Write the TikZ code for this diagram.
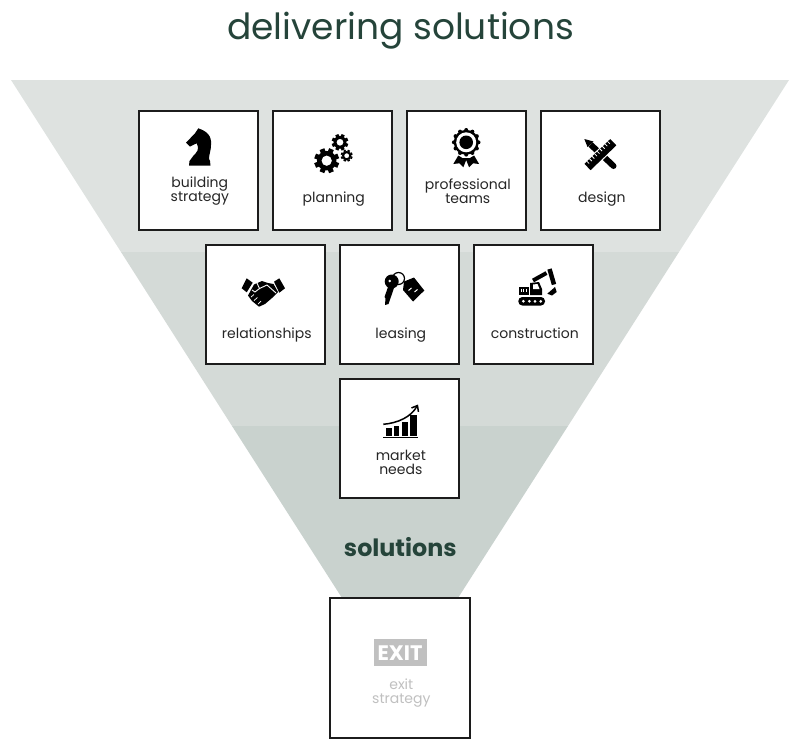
\documentclass[tikz,border=0pt]{standalone}
\usepackage{fontspec}
\setmainfont{Poppins}
\definecolor{bandtop}{RGB}{222, 226, 224}
\definecolor{bandmid}{RGB}{212, 218, 215}
\definecolor{bandlow}{RGB}{201, 210, 206}
\definecolor{titlegreen}{RGB}{37, 68, 58}
\definecolor{boxline}{RGB}{28, 28, 28}
\definecolor{exitgrey}{RGB}{192, 192, 192}
\usetikzlibrary{arrows.meta, positioning, calc}

\tikzset{
    gear/.pic={
        \fill[even odd rule] (0,0) circle ({0.78*#1}) (0,0) circle ({0.42*#1});
        \foreach \a in {0,45,...,315}
            \fill[rotate=\a+22.5] ({-0.2*#1},{-#1}) rectangle ({0.2*#1},{-0.7*#1});
    }
}

\begin{document}
\begin{tikzpicture}[
    x=1pt, y=-1pt,
    box/.style={draw=boxline, fill=white, line width=2pt, minimum size=119pt, outer sep=0pt},
    lbl/.style={align=center, inner sep=0pt, xshift=1pt, text=black!85, font=\fontsize{14}{14}\selectfont},
    head/.style={text=titlegreen, inner sep=0pt}
]
    \useasboundingbox (0,0) rectangle (800,750);

    % funnel
    \fill[bandtop] (11,80) -- (789,80) -- (679,252) -- (121,252) -- cycle;
    \fill[bandmid] (121,252) -- (679,252) -- (568,426) -- (232,426) -- cycle;
    \fill[bandlow] (232,426) -- (568,426) -- (458,598) -- (342,598) -- cycle;

    \node[head, font=\fontsize{36}{40}\selectfont] (title) at (400.5,31) {delivering solutions};
    \node[head, font=\bfseries\fontsize{23.8}{24}\selectfont] (sol) at (400.3,547) {solutions};

    % boxes
    \node[box] (strat) at (198.8,170.5) {};
    \node[box, right=15pt of strat] (plan) {};
    \node[box, right=15pt of plan] (teams) {};
    \node[box, right=15pt of teams] (design) {};
    \node[box, below right=15pt and -52pt of strat] (rel) {};
    \node[box, right=15pt of rel] (lease) {};
    \node[box, right=15pt of lease] (constr) {};
    \node[box, below=15pt of lease] (market) {};
    \node[box, minimum size=140pt] (exit) at (400.3,668) {};

    \node[lbl] (stratl) at ([yshift=-21pt]strat.center) {building\\strategy};
    \node[lbl] (planl) at ([yshift=-28.5pt]plan.center) {planning};
    \node[lbl] (teamsl) at ([yshift=-20.5pt]teams.center) {professional\\teams};
    \node[lbl] (designl) at ([yshift=-28.5pt]design.center) {design};
    \node[lbl] (rell) at ([yshift=-30.5pt]rel.center) {relationships};
    \node[lbl] (leasel) at ([yshift=-30.5pt]lease.center) {leasing};
    \node[lbl] (constrl) at ([yshift=-29pt]constr.center) {construction};
    \node[lbl] (marketl) at ([yshift=-23.5pt]market.center) {market\\needs};
    \node[lbl, text=exitgrey] (exitl) at ([yshift=-25pt]exit.center) {exit\\strategy};
    \node[fill=exitgrey, text=white, minimum width=53pt, minimum height=27pt, inner sep=0pt,
          font=\bfseries\fontsize{21}{22}\selectfont] (exitsign) at (400,652.7) {EXIT};

    % knight
    \fill (198.3,128.3) .. controls (206,131) and (212,135) .. (211,145)
        .. controls (211,151) and (209,154) .. (209,159) -- (210,161) -- (210.5,165.7) -- (189,165.7)
        -- (189.5,161) -- (191,159) .. controls (193,155) and (199,152) .. (198,147)
        -- (196.7,143.3) -- (190,146.5) -- (186,142.7) -- (195,133.3) -- cycle;

    % gears
    \pic at (326.7,160.7) {gear=12.5};
    \pic at (340,142.3) {gear=8.3};
    \pic at (346.7,155.7) {gear=6};

    % medal
    \fill (466.2,142.3) circle (12.5);
    \foreach \a in {0,30,...,330}
        \fill (466.2,142.3) ++(\a:12.3) circle (2);
    \fill[white] (466.2,142.3) circle (10);
    \fill (466.2,142.3) circle (6.8);
    \fill (458.3,155.5) -- (453.3,164) -- (459.3,163.3) -- (463.3,167.3) -- (466.2,160)
        -- (469.1,167.3) -- (473.1,163.3) -- (479.1,164) -- (474.1,155.5)
        -- (470,158) -- (462.4,158) -- cycle;

    % pencil and ruler
    \coordinate (rulera) at (613.3,142.2);
    \coordinate (rulerb) at (587.5,167);
    \fill (584.3,139) -- (593.5,141.5) -- (587.5,147) -- cycle;
    \draw[line width=6pt] (590.5,144.5) -- (612,164.5);
    \draw[line width=6pt, line cap=round] (612,164.5) -- (613.5,166);
    \draw[white, line width=11pt] ($(rulera)!0.2!(rulerb)$) -- ($(rulera)!0.8!(rulerb)$);
    \draw[line width=8.8pt] (rulera) -- (rulerb);
    \foreach \t in {0.1,0.2,...,0.9}
        \draw[white, line width=0.8pt] ($(rulera)!\t!(rulerb)+(-3.2,-3.3)$) -- ($(rulera)!\t!(rulerb)+(-0.9,-1)$);

    % handshake
    \fill (246.7,278.3) -- (252.7,282.7) -- (246.7,292.3) -- (241.7,288.3) -- cycle;
    \fill (274,281.7) -- (279.3,278.3) -- (285,288.3) -- (279.3,292.7) -- cycle;
    \fill (254,284.5) -- (262,281) -- (268,283) -- (273.5,284) -- (278,292) -- (272,298)
        -- (265,304) -- (259,306.7) -- (252,301) -- (248,295.5) -- cycle;
    \draw[white, line width=0.9pt] (256.5,282) -- (259.5,288.5) -- (267,285) -- (276,293);
    \draw[white, line width=0.9pt] (259.5,288.5) -- (255,292) -- (252,290);
    \draw[white, line width=0.7pt] (251,297) -- (254,294.5) (254,300.5) -- (257.5,297.5) (258,304) -- (261,301);

    % key and tag
    \fill[even odd rule] (391.7,281.5) circle (7) (389.8,281) circle (1.6);
    \fill (388,287) -- (394,288) -- (388.5,304) -- (385,305) -- (385.5,298) -- (384.5,297) -- cycle;
    \draw[line width=1.2pt] (398.5,278.5) circle (6);
    \fill (404,281.5) -- (414,277.5) -- (424.3,290.5) -- (413,301.5) -- (403,290) -- cycle;
    \draw[white, line width=1pt] (408.5,290.5) -- (411.5,288) (414.5,292) -- (417.5,289.5);

    % excavator
    \fill[rounded corners=4pt] (518.3,297) rectangle (545,305.5);
    \foreach \x in {523.3,529.3,535,540.7}
        \fill[white] (\x,301.3) circle (1.5);
    \fill (519.3,287) rectangle (528.5,295);
    \foreach \x in {521,523.5,526}
        \draw[white, line width=0.8pt] (\x,288.5) -- (\x,291.5);
    \fill (530,295) -- (530,283) -- (539,282) -- (542,289) -- (542,295) -- cycle;
    \fill[white] (533,284.5) -- (537.5,284) -- (539.5,289) -- (533,289) -- cycle;
    \draw[line width=4pt] (533,280.5) -- (546.5,273);
    \draw[line width=4.5pt] (549.5,269) -- (554,284.5);
    \fill (547.3,293.7) -- (555,287) -- (556.7,292) -- (552,295.5) -- cycle;

    % chart
    \draw[line width=1.3pt] (383.3,437.3) -- (418.3,437.3);
    \foreach \l/\r/\t in {385.7/391.7/428.3, 393.7/399.3/425.7, 402/407.7/421.7, 410.3/416.7/415}
        \fill (\l,\t) rectangle (\r,436);
    \draw[line width=1.5pt, -{Straight Barb[length=5pt,width=8pt]}] (383.3,424.3)
        .. controls (398,423) and (411,417) .. (418,404.5);
\end{tikzpicture}
\end{document}
